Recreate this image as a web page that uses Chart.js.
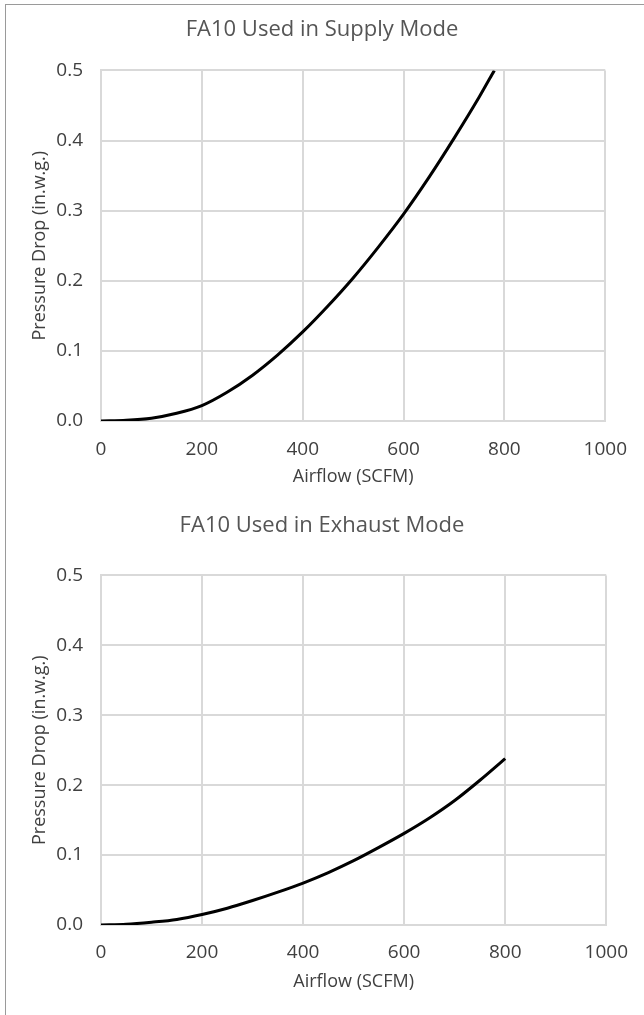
<!DOCTYPE html>
<html>
<head>
<meta charset="utf-8">
<script src="https://cdn.jsdelivr.net/npm/chart.js@4.4.1/dist/chart.umd.min.js"></script>
<style>
  html, body { margin: 0; padding: 0; background: #fff; }
  #page { position: relative; width: 644px; height: 1015px; overflow: hidden; }
  #frame { position: absolute; left: 5px; top: 4px; width: 650px; height: 1020px;
           border-top: 1px solid #9a9a9a; border-left: 1px solid #9a9a9a; }
  canvas { position: absolute; left: 0; }
</style>
</head>
<body>
<div id="page">
  <div id="frame"></div>
  <canvas id="supply" width="644" height="505" style="top:0"></canvas>
  <canvas id="exhaust" width="644" height="510" style="top:505px"></canvas>
</div>
<script>
// airflow in SCFM, pressure drop in in.w.g.
const supplyFlow = [0, 50, 100, 150, 200, 250, 300, 350, 400, 450, 500, 550, 600, 650, 700, 750, 780];
const supplyDrop = [0, 0.001, 0.004, 0.011, 0.022, 0.041, 0.065, 0.094, 0.127, 0.164, 0.204, 0.248, 0.295, 0.347, 0.403, 0.462, 0.5];

const exhaustFlow = [0, 50, 100, 150, 200, 250, 300, 350, 400, 450, 500, 550, 600, 650, 700, 750, 800];
const exhaustDrop = [0, 0.001, 0.004, 0.008, 0.015, 0.024, 0.035, 0.047, 0.060, 0.075, 0.092, 0.111, 0.131, 0.153, 0.178, 0.207, 0.238];

const xTicks = [0, 200, 400, 600, 800, 1000];
const yTicks = [0, 0.1, 0.2, 0.3, 0.4, 0.5];

const textColor = '#404040';
const gridColor = '#d9d9d9';
const fontFamily = '"Open Sans", "Noto Sans", sans-serif';

function makeChart(id, title, flow, drop, lay) {
  const ctx = document.getElementById(id).getContext('2d');
  return new Chart(ctx, {
    type: 'line',
    data: {
      datasets: [{
        data: flow.map((x, i) => ({ x: x, y: drop[i] })),
        borderColor: '#000',
        borderWidth: 3,
        pointRadius: 0,
        cubicInterpolationMode: 'monotone',
        fill: false,
      }],
    },
    options: {
      responsive: false,
      animation: false,
      layout: { padding: { left: 6, right: 6, top: 0, bottom: 0 } },
      plugins: {
        legend: { display: false },
        tooltip: { enabled: false },
        title: {
          display: true,
          text: title,
          color: '#555',
          font: { family: fontFamily, size: 22, weight: 'normal' },
          padding: { top: lay.titleTop, bottom: lay.titleBottom },
        },
      },
      scales: {
        x: {
          type: 'linear',
          min: 0,
          max: 1000,
          afterBuildTicks: (s) => { s.ticks = xTicks.map(v => ({ value: v })); },
          afterFit: (s) => { s.height = lay.xHeight; },
          grid: { color: gridColor, lineWidth: 2, drawTicks: false },
          border: { color: gridColor, width: 2 },
          ticks: {
            color: textColor,
            padding: lay.xTickPad,
            maxRotation: 0,
            font: { family: fontFamily, size: 19 },
            callback: (v) => String(v),
          },
          title: {
            display: true,
            text: 'Airflow (SCFM)',
            color: textColor,
            font: { family: fontFamily, size: 18 },
            padding: { top: 0, bottom: lay.xTitleBottom },
          },
        },
        y: {
          type: 'linear',
          min: 0,
          max: 0.5,
          afterBuildTicks: (s) => { s.ticks = yTicks.map(v => ({ value: v })); },
          afterFit: (s) => { s.width = 95; },
          grid: { color: gridColor, lineWidth: 2, drawTicks: false },
          border: { color: gridColor, width: 2 },
          ticks: {
            color: textColor,
            padding: 18,
            font: { family: fontFamily, size: 19 },
            callback: (v) => v.toFixed(1),
          },
          title: {
            display: true,
            text: 'Pressure Drop (in.w.g.)',
            color: textColor,
            font: { family: fontFamily, size: 18 },
            padding: { top: 23, bottom: 0 },
          },
        },
        // empty space to the right of the plot, the way the chart box is laid out
        pad: {
          type: 'linear',
          position: 'right',
          grid: { display: false },
          border: { display: false },
          ticks: { display: false },
          afterFit: (s) => { s.width = 31; },
        },
      },
    },
  });
}

makeChart('supply', 'FA10 Used in Supply Mode', supplyFlow, supplyDrop,
  { titleTop: 17, titleBottom: 27, xHeight: 84, xTickPad: 17, xTitleBottom: 17 });
makeChart('exhaust', 'FA10 Used in Exhaust Mode', exhaustFlow, exhaustDrop,
  { titleTop: 8, titleBottom: 36, xHeight: 90, xTickPad: 16, xTitleBottom: 22 });
</script>
</body>
</html>
